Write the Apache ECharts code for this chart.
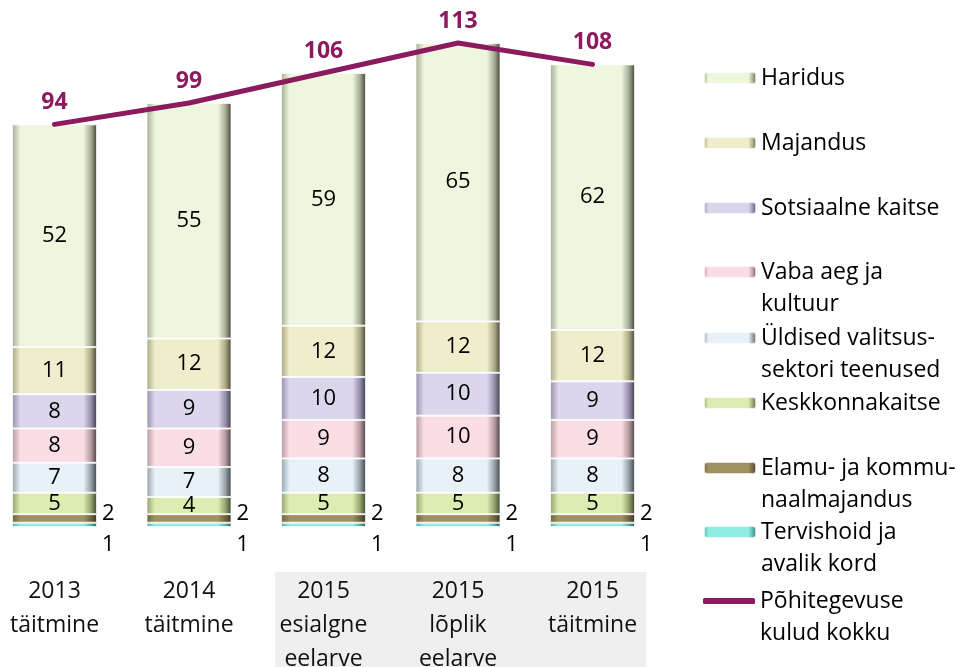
<!DOCTYPE html>
<html><head><meta charset="utf-8">
<script src="https://cdn.jsdelivr.net/npm/echarts@6/dist/echarts.min.js"></script>
<style>html,body{margin:0;padding:0;background:#fff}#c{width:960px;height:667px}</style>
</head><body><div id="c"></div>
<script>
const categories = ['2013\ntäitmine','2014\ntäitmine','2015\nesialgne\neelarve','2015\nlõplik\neelarve','2015\ntäitmine'];
const tervishoid = [1,1,1,1,1];
const elamu = [2,2,2,2,2];
const keskkond = [5,4,5,5,5];
const yldised = [7,7,8,8,8];
const vabaAeg = [8,9,9,10,9];
const sotsiaal = [8,9,10,10,9];
const majandus = [11,12,12,12,12];
const haridus = [52,55,59,65,62];
const kokku = [94,99,106,113,108];

const FONT = 'Open Sans';
function bevel(light, edge, dark){
  return {type:'linear',x:0,y:0,x2:1,y2:0,colorStops:[
    {offset:0,color:edge},{offset:0.1,color:light},{offset:0.84,color:light},
    {offset:0.93,color:edge},{offset:1,color:dark}]};
}
const lbl = {show:true, position:'inside', fontFamily:FONT, fontSize:22, color:'#000'};
function barSeries(name, data, colors, label){
  return {name, type:'bar', stack:'s', data, barWidth:85,
    itemStyle:{color:bevel(colors[0],colors[1],colors[2]), borderColor:'rgba(255,255,255,0.75)', borderWidth:1},
    label: label || lbl};
}
const series = [
  barSeries('Tervishoid ja\navalik kord', tervishoid, ['#8EEDE2','#5AB0A6','#2E5A55'], Object.assign({}, lbl, {position:'right', offset:[0,20]})),
  barSeries('Elamu- ja kommu-\nnaalmajandus', elamu, ['#A09260','#6E6440','#3A3420'], Object.assign({}, lbl, {position:'right', offset:[0,-5]})),
  barSeries('Keskkonnakaitse', keskkond, ['#DDEDB2','#94A26C','#3E4430']),
  barSeries('Üldised valitsus-\nsektori teenused', yldised, ['#E8F1F8','#949FA8','#3D4246']),
  barSeries('Vaba aeg ja\nkultuur', vabaAeg, ['#FBDDE5','#B499A0','#4A3F42']),
  barSeries('Sotsiaalne kaitse', sotsiaal, ['#DCD6EC','#958EAA','#3E3B48']),
  barSeries('Majandus', majandus, ['#EFEDCB','#ABA784','#45433A']),
  barSeries('Haridus', haridus, ['#EFF6DE','#A5AB92','#3E4236']),
  {name:'Põhitegevuse\nkulud kokku', type:'line', data:kokku, symbol:'circle', symbolSize:2, showSymbol:true, z:5,
   lineStyle:{width:5, color:'#8C1A5E', cap:'round'}, itemStyle:{color:'#8C1A5E'},
   label:{show:true, position:'top', distance:9, fontFamily:FONT, fontSize:23, fontWeight:'bold', color:'#8C1A5E'}}
];
const legendItems = [
  ['Haridus',78,1],['Majandus',143,1],['Sotsiaalne kaitse',208,1],['Vaba aeg ja\nkultuur',272,2],
  ['Üldised valitsus-\nsektori teenused',338,2],['Keskkonnakaitse',403,1],['Elamu- ja kommu-\nnaalmajandus',468,2],
  ['Tervishoid ja\navalik kord',532,2],['Põhitegevuse\nkulud kokku',598,3]
];
const legends = legendItems.map(([n,y,l]) => ({
  data:[l===3 ? {name:n, icon:'roundRect'} : n], left:703, top: l===1 ? y-16 : (l===2 ? y-48 : y-45),
  orient:'vertical', padding:0,
  itemWidth:52, itemHeight: l===3 ? 6 : 12, itemGap:0, selectedMode:false,
  formatter: l===1 ? '{name}' : (name => '\n' + name),
  textStyle:{fontFamily:FONT, fontSize:23, color:'#000', lineHeight:32}
}));
const chart = echarts.init(document.getElementById('c'));
chart.setOption({
  animation:false,
  grid:{left:54.5, right:367.5, top:13, bottom:140, outerBoundsMode:'none', containLabel:false},
  xAxis:{type:'category', data:categories, boundaryGap:false, axisLine:{show:false}, axisTick:{show:false},
    axisLabel:{fontFamily:FONT, fontSize:23, lineHeight:34, color:'#111', margin:47, interval:0}},
  yAxis:{type:'value', min:0, max:120, show:false, splitLine:{show:false}},
  legend: legends,
  series
});
const c2 = chart.convertToPixel({xAxisIndex:0}, 2);
const c4 = chart.convertToPixel({xAxisIndex:0}, 4);
const c1 = chart.convertToPixel({xAxisIndex:0}, 1);
const c0 = chart.convertToPixel({xAxisIndex:0}, 0);
const bw = c1 - c0;
const base = chart.convertToPixel({yAxisIndex:0}, 0);
const x0 = c2 - bw*0.36, x1 = c4 + bw*0.40;
chart.setOption({graphic:[{type:'rect', z:-10, shape:{x:x0, y:base+45, width:x1-x0, height:667-base-45}, style:{fill:'#EFEFEF'}}]});
</script></body></html>
